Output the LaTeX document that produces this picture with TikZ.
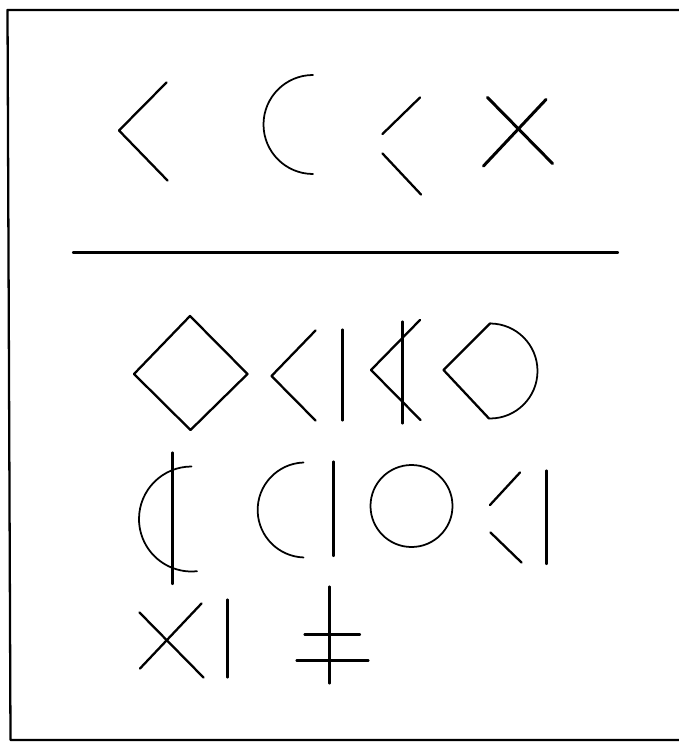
\documentclass[tikz,border=0pt]{standalone}
\usepackage{tikz}

\begin{document}
\begin{tikzpicture}[line width=1.3pt,line cap=round,line join=round,
    thinarc/.style={line width=1pt}]
  \useasboundingbox (0,0) rectangle (13.56,-14.84);
  % frame
  \draw[line width=1.3pt,line cap=butt] (13.7,-0.2) -- (0.15,-0.2) -- (0.21,-14.8) -- (13.7,-14.8);
  % top row
  \draw (3.33,-1.65) -- (2.38,-2.61) -- (3.35,-3.61);
  \draw[thinarc] (6.26,-1.5) arc[start angle=90,end angle=270,radius=0.99];
  \draw (8.40,-1.95) -- (7.65,-2.68);
  \draw (7.65,-3.07) -- (8.42,-3.89);
  \draw[line width=1.7pt] (9.75,-1.95) -- (11.05,-3.27);
  \draw[line width=1.7pt] (10.92,-1.99) -- (9.67,-3.32);
  \draw (1.46,-5.05) -- (12.36,-5.05);
  % second row
  \draw (3.80,-6.32) -- (2.68,-7.48) -- (3.81,-8.60) -- (4.95,-7.48) -- cycle;
  \draw (6.31,-6.61) -- (5.43,-7.52) -- (6.31,-8.41);
  \draw (6.85,-6.59) -- (6.85,-8.41);
  \draw (8.40,-6.40) -- (7.42,-7.40) -- (8.41,-8.40);
  \draw (8.05,-6.43) -- (8.05,-8.47);
  \draw (9.78,-8.37) -- (8.87,-7.40) -- (9.80,-6.47);
  \draw[thinarc] (9.80,-6.47) arc[start angle=90,end angle=-90,radius=0.95];
  % third row
  \draw[thinarc] (3.83,-9.33) arc[start angle=90,end angle=276,radius=1.05];
  \draw (3.45,-9.05) -- (3.45,-11.68);
  \draw[thinarc] (6.07,-9.25) arc[start angle=92,end angle=268,radius=0.95];
  \draw (6.67,-9.23) -- (6.67,-11.12);
  \draw[thinarc] (8.23,-10.12) circle (0.82);
  \draw (10.40,-9.45) -- (9.80,-10.10);
  \draw (9.81,-10.65) -- (10.43,-11.25);
  \draw (10.93,-9.41) -- (10.93,-11.28);
  % fourth row
  \draw (2.79,-12.25) -- (4.07,-13.55);
  \draw (4.03,-12.07) -- (2.80,-13.37);
  \draw (4.55,-11.99) -- (4.55,-13.55);
  \draw (6.59,-11.73) -- (6.59,-13.67);
  \draw (6.09,-12.69) -- (7.20,-12.69);
  \draw (5.93,-13.21) -- (7.37,-13.21);
\end{tikzpicture}
\end{document}
